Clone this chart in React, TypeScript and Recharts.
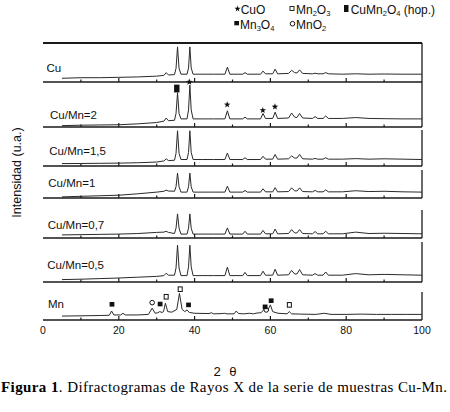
import React from 'react';
import { ComposedChart, Line, XAxis, YAxis, ReferenceLine, ReferenceDot } from 'recharts';

// 2θ positions for the CuO-type patterns
const cuAngles = [5, 10, 15, 20, 25, 30, 31.9, 32.5, 33.1, 34.7, 35.1, 35.5, 35.9, 36.4, 38.0, 38.4, 38.75, 39.1, 39.6, 42, 45, 48.0, 48.65, 49.3, 52.7, 53.3, 53.9, 57.4, 58.05, 58.7, 60.6, 61.25, 61.9, 64.8, 65.6, 66.4, 67.0, 67.7, 68.5, 71.1, 71.8, 72.5, 73.9, 74.6, 75.3, 79, 82.5, 86, 90, 95, 100];

const intCu = [9.5, 11, 11, 12, 13, 15, 17, 24, 18, 19, 35, 90, 35, 20, 20, 36, 90, 36, 20, 20, 20, 20, 38, 20, 20, 24, 20, 20, 28, 21, 21, 33, 21, 22, 30, 24, 23, 31, 22, 21, 22.5, 21, 21, 24, 21, 20, 21, 20, 20.5, 20, 20];
const intCuMn2 = [3, 4, 4.5, 5, 7, 10, 13, 20, 14, 15, 30, 76, 30, 18, 18, 38, 93, 38, 18, 18, 18, 18, 36, 18, 18, 22, 18, 18, 30, 19, 19, 33, 19, 20, 31, 22, 21, 30, 20, 19, 23, 19, 19, 24.5, 19, 19, 21, 19, 18.5, 18, 18];
const intCuMn15 = [6.7, 7, 7.5, 8, 9, 11, 14, 20, 15, 16, 35, 98, 35, 18, 18, 38, 98, 38, 18, 18, 18, 18, 36, 18, 18, 23, 18, 18, 27, 19, 19, 32, 19, 20, 28, 22, 22, 32, 20, 19, 21, 19, 19, 23, 19, 19, 20.5, 19, 20, 19, 18];
const intCuMn1 = [4, 6, 8, 10, 15, 21, 24, 28, 25, 24, 40, 89, 40, 21, 21, 40, 89, 40, 21, 21, 21, 21, 42, 21, 21, 27, 21, 21, 33, 22, 22, 37, 22, 23, 36, 26, 25, 36, 23, 22, 27, 22, 22, 29, 22, 22, 26, 23, 24, 22, 21];
const intCuMn07 = [11, 12, 13, 14, 16, 20, 21, 24, 20, 16, 35, 86, 35, 14, 14, 35, 86, 35, 14, 14, 14, 14, 36, 14, 14, 24, 14, 14, 27, 15, 15, 32, 15, 16, 30, 18, 18, 30, 16, 15, 23, 15, 15, 24, 15, 15, 21, 16, 17, 16, 15];
const intCuMn05 = [6, 7, 8.5, 10, 12, 14, 16, 22, 17, 17, 35, 92, 35, 16, 16, 38, 92, 38, 16, 16, 16, 16, 37, 16, 16, 24, 16, 16, 27, 17, 17, 32, 17, 18, 29, 20, 20, 31, 18, 17, 21, 17, 17, 25, 17, 17, 21, 18, 19, 18, 17];

const mnAngles = [5, 10, 15, 17.5, 18.1, 18.7, 20.5, 21.1, 21.7, 25, 27.8, 28.8, 29.6, 30.3, 30.8, 31.4, 31.8, 32.3, 32.9, 34, 35.3, 36.0, 36.7, 37.4, 38.0, 38.6, 40, 43.8, 44.4, 45, 47.3, 47.9, 48.5, 50.4, 51, 51.6, 53, 54.5, 55.5, 56.5, 57.5, 58.1, 58.6, 59.2, 59.5, 60.0, 60.6, 62, 64.4, 65.0, 65.6, 68, 72, 74.2, 76, 80, 84, 88, 92, 96, 100];
const intMn = [14, 15, 16, 17, 32, 18, 18, 24, 18, 18, 20, 42, 24, 26, 30, 27, 30, 60, 30, 28, 38, 95, 38, 30, 36, 27, 24, 23, 26, 22, 23, 24, 22, 22, 32, 23, 22, 24, 22, 25, 26, 34, 42, 32, 40, 54, 30, 24, 22, 30, 22, 21, 20, 24, 20, 20, 21, 20, 20, 20, 20];

// phase markers (2θ, height in panel units, phase)
const markersCuMn2 = [
  { a: 35.3, y: 85.5, k: 'hop' },
  { a: 38.6, y: 100, k: 'star' },
  { a: 48.6, y: 49.6, k: 'star' },
  { a: 58.0, y: 37, k: 'star' },
  { a: 61.2, y: 45, k: 'star' },
];
const markersMn = [
  { a: 18.2, y: 56, k: 'm34' },
  { a: 28.8, y: 62, k: 'o' },
  { a: 30.9, y: 57, k: 'm34' },
  { a: 32.5, y: 83, k: 'm23' },
  { a: 36.2, y: 110, k: 'm23' },
  { a: 38.4, y: 54, k: 'm34' },
  { a: 58.9, y: 36, k: 'o' },
  { a: 58.6, y: 47, k: 'm34' },
  { a: 60.2, y: 69, k: 'm34' },
  { a: 65.0, y: 54, k: 'm23' },
];

const xTicks = [0, 10, 20, 30, 40, 50, 60, 70, 80, 90, 100];
const xLabelTicks = [0, 20, 40, 60, 80, 100];
const panelLabels = ['Cu', 'Cu/Mn=2', 'Cu/Mn=1,5', 'Cu/Mn=1', 'Cu/Mn=0,7', 'Cu/Mn=0,5', 'Mn'];

const build = (angles: number[], vals: number[]) => angles.map((a, k) => ({ a, i: vals[k] }));

const panels = [
  { data: build(cuAngles, intCu), top: 43, bottom: 82, lx: 46.5, ly: 71.5, topBorder: true, markers: [] as any[] },
  { data: build(cuAngles, intCuMn2), top: 82, bottom: 127, lx: 50, ly: 118.5, markers: markersCuMn2 },
  { data: build(cuAngles, intCuMn15), top: 130, bottom: 166, lx: 49.3, ly: 155, markers: [] },
  { data: build(cuAngles, intCuMn1), top: 170, bottom: 198, lx: 48.3, ly: 187.3, markers: [] },
  { data: build(cuAngles, intCuMn07), top: 210, bottom: 238, lx: 47.7, ly: 229.3, markers: [] },
  { data: build(cuAngles, intCuMn05), top: 242, bottom: 282, lx: 47.3, ly: 268.5, markers: [] },
  { data: build(mnAngles, intMn), top: 292, bottom: 320, lx: 48, ly: 308, markers: markersMn },
];

const INK = '#1a1a1a';
const SANS = '"Liberation Sans", Arial, Helvetica, sans-serif';
const M_TOP = 14;

function starPts(cx: number, cy: number, R: number, r: number) {
  const pts: string[] = [];
  for (let k = 0; k < 10; k++) {
    const ang = -Math.PI / 2 + (k * Math.PI) / 5;
    const rad = k % 2 === 0 ? R : r;
    pts.push(`${cx + rad * Math.cos(ang)},${cy + rad * Math.sin(ang)}`);
  }
  return pts.join(' ');
}

function Marker({ kind, cx, cy }: { kind: string; cx: number; cy: number }) {
  if (kind === 'star') return <polygon points={starPts(cx, cy, 3.4, 1.4)} fill="#111" />;
  if (kind === 'hop') return <rect x={cx - 2.7} y={cy - 3.9} width={5.4} height={7.8} fill="#111" />;
  if (kind === 'm34') return <rect x={cx - 2.4} y={cy - 2.3} width={4.8} height={4.6} fill="#111" />;
  if (kind === 'm23') return <rect x={cx - 2} y={cy - 2.3} width={4} height={4.6} fill="#fff" stroke="#111" strokeWidth={1} />;
  return <circle cx={cx} cy={cy} r={2.3} fill="#fff" stroke="#111" strokeWidth={1} />;
}

function renderTick(props: any, labels: boolean) {
  const { x, y, payload } = props;
  const v = payload.value;
  const len = v % 20 === 0 ? 4 : 2.5;
  return (
    <g>
      {v !== 0 && v !== 100 && <line x1={x} x2={x} y1={y} y2={y - len} stroke={INK} strokeWidth={1.2} />}
      {labels && xLabelTicks.includes(v) && (
        <text x={x} y={y + 13.5} textAnchor="middle" fontFamily={SANS} fontSize={10.5} fill="#111">{v}</text>
      )}
    </g>
  );
}

function Panel({ p, last }: { p: any; last: boolean }) {
  const plotH = p.bottom - p.top;
  const axisH = last ? 24 : 2;
  const h = M_TOP + plotH + axisH;
  return (
    <div style={{ position: 'absolute', left: 0, top: p.top - M_TOP }}>
      <ComposedChart width={450} height={h} data={p.data} margin={{ top: M_TOP, right: 28, left: 43, bottom: 0 }}>
        <XAxis
          dataKey="a"
          type="number"
          domain={[0, 100]}
          ticks={xTicks}
          interval={0}
          height={axisH}
          axisLine={{ stroke: INK, strokeWidth: 1.5 }}
          tickLine={false}
          tickSize={0}
          tickMargin={0}
          tick={(tp: any) => renderTick(tp, last)}
        />
        <YAxis type="number" domain={[0, 100]} width={0} tick={false} tickLine={false} axisLine={{ stroke: INK, strokeWidth: 1.3 }} />
        <ReferenceLine x={100} stroke={INK} strokeWidth={1.3} />
        {p.topBorder && <ReferenceLine y={100} stroke={INK} strokeWidth={2} />}
        <Line dataKey="i" type="linear" stroke="#2a2a2a" strokeWidth={1} dot={false} isAnimationActive={false} />
        {p.markers.map((m: any, k: number) => (
          <ReferenceDot
            key={k}
            x={m.a}
            y={m.y}
            r={3}
            ifOverflow="visible"
            shape={(s: any) => <Marker kind={m.k} cx={s.cx} cy={s.cy} />}
          />
        ))}
      </ComposedChart>
    </div>
  );
}

export default function App() {
  return (
    <div style={{ position: 'fixed', left: 0, top: 0, width: 450, height: 412, background: '#fff', overflow: 'hidden' }}>
      {panels.map((p, idx) => (
        <Panel key={idx} p={p} last={idx === panels.length - 1} />
      ))}
      <svg width={450} height={412} style={{ position: 'absolute', left: 0, top: 0, pointerEvents: 'none' }}>
        {/* legend */}
        <g fontFamily={SANS} fontSize={12} fill="#111">
          <polygon points={starPts(237.5, 8.8, 3.2, 1.3)} fill="#111" />
          <text x={240.7} y={13.5}>CuO</text>
          <rect x={290} y={6.5} width={4} height={4} fill="#fff" stroke="#111" strokeWidth={0.9} />
          <text x={296} y={13.5}>Mn<tspan fontSize={7.5} dy={2.5}>2</tspan><tspan dy={-2.5}>O</tspan><tspan fontSize={7.5} dy={2.5}>3</tspan></text>
          <rect x={344} y={5} width={4.5} height={7} fill="#111" />
          <text x={350.7} y={13.5}>CuMn<tspan fontSize={7.5} dy={2.5}>2</tspan><tspan dy={-2.5}>O</tspan><tspan fontSize={7.5} dy={2.5}>4</tspan><tspan dy={-2.5}> (hop.)</tspan></text>
          <rect x={234.3} y={21} width={4.7} height={4.3} fill="#111" />
          <text x={240} y={28.5}>Mn<tspan fontSize={7.5} dy={2.5}>3</tspan><tspan dy={-2.5}>O</tspan><tspan fontSize={7.5} dy={2.5}>4</tspan></text>
          <circle cx={292.5} cy={23.7} r={2.3} fill="#fff" stroke="#111" strokeWidth={1} />
          <text x={296} y={28.5}>MnO<tspan fontSize={7.5} dy={2.5}>2</tspan></text>
        </g>
        {/* panel labels */}
        {panels.map((p, idx) => (
          <text key={idx} x={p.lx} y={p.ly} fontFamily={SANS} fontSize={11.5} fill="#111">{panelLabels[idx]}</text>
        ))}
        {/* y label */}
        <text x={20.5} y={172.5} transform="rotate(-90 20.5 172.5)" textAnchor="middle" fontFamily={SANS} fontSize={12.5} fill="#111">Intensidad (u.a.)</text>
        {/* x label */}
        <text x={225} y={375.5} textAnchor="middle" fontFamily='"Liberation Mono", "DejaVu Sans Mono", monospace' fontSize={13} fill="#111">2 θ</text>
        {/* caption */}
        <text x={1} y={392} fontFamily='"Liberation Serif", "Times New Roman", serif' fontSize={15} fill="#000" textLength={446}>
          <tspan fontWeight="bold">Figura 1</tspan>. Difractogramas de Rayos X de la serie de muestras Cu-Mn.
        </text>
      </svg>
    </div>
  );
}
